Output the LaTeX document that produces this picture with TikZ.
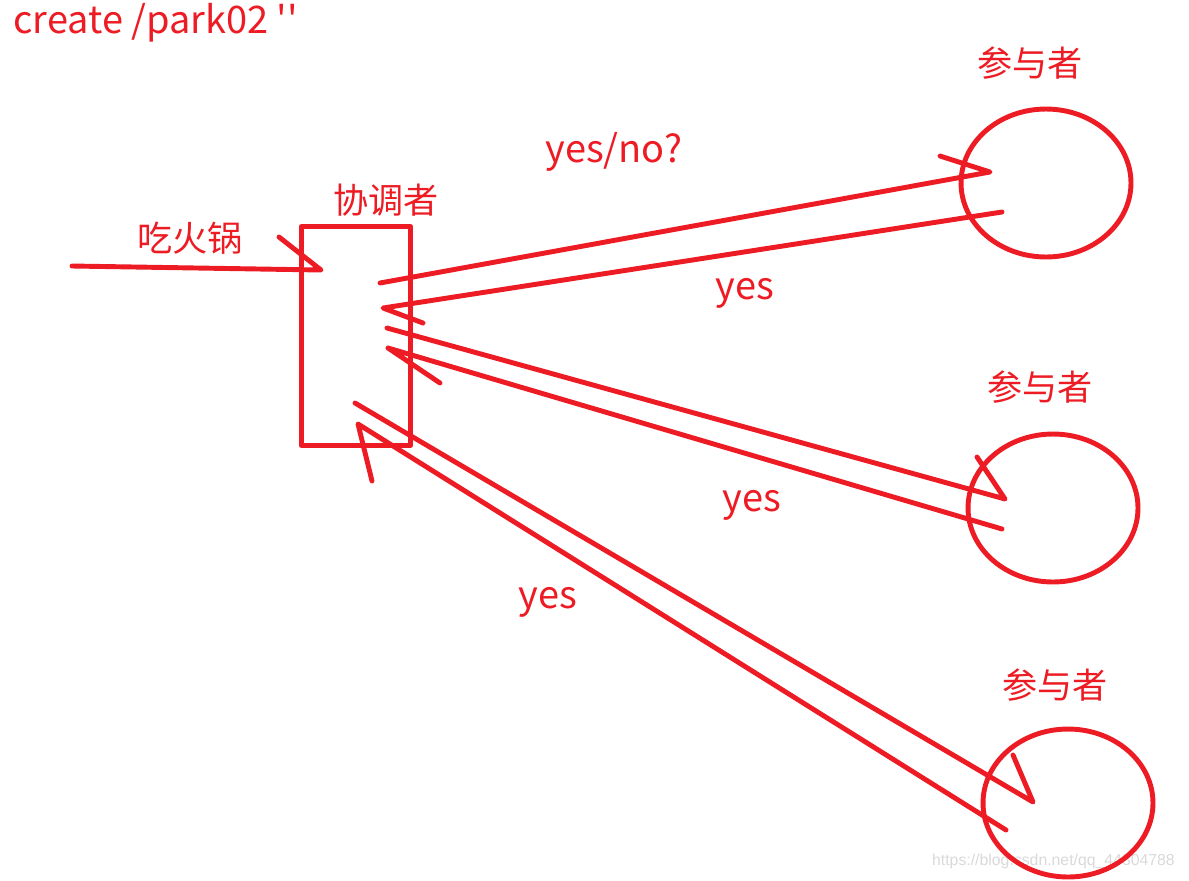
\documentclass[tikz,border=0pt]{standalone}
\usepackage{fontspec}
\newfontfamily\cjk[Ligatures=TeXOff]{Noto Sans CJK SC}
\newfontfamily\wmfont{Liberation Sans}
\usetikzlibrary{shapes.geometric}
\definecolor{paintred}{RGB}{237,28,36}

\begin{document}
\begin{tikzpicture}[
    x=0.02cm, y=-0.02cm,
    pen/.style={draw=paintred, line width=2.8pt, line cap=round, line join=round},
    lbl/.style={text=paintred, font=\cjk\fontsize{20}{24}\selectfont, inner sep=0pt},
    latin/.style={lbl, font=\cjk\fontsize{21.6}{26}\selectfont},
    party/.style={pen, ellipse, inner sep=0pt, minimum width=3.4cm, minimum height=2.96cm}
  ]
    \useasboundingbox (0,0) rectangle (1189,880);
    \node[text=black!15, font=\wmfont\fontsize{9}{10}\selectfont, anchor=east] (wm)
      at (1181,861) {https://blog.csdn.net/qq\_44304788};

    \node[latin, anchor=base west] (title) at (13,33) {create /park02 ''};

    % coordinator and participants
    \node[pen, inner sep=0pt, minimum width=2.18cm, minimum height=4.38cm] (coord) at (356,336) {};
    \node[lbl] (coordlbl) at (386,200) {协调者};
    \node[lbl] (hotpot) at (190,238) {吃火锅};
    \node[party] (p1) at (1046,183) {};
    \node[party] (p2) at (1053,508) {};
    \node[party] (p3) at (1068,803) {};
    \node[lbl] (p1lbl) at (1030,63) {参与者};
    \node[lbl] (p2lbl) at (1040,387) {参与者};
    \node[lbl] (p3lbl) at (1055,685) {参与者};

    % message labels
    \node[latin] (ask) at (614,152) {yes/no?};
    \node[latin] (yes1) at (745,293) {yes};
    \node[latin] (yes2) at (752,505) {yes};
    \node[latin] (yes3) at (548,602) {yes};

    % hand-drawn arrows: line to the tip, then one barb
    \coordinate (in) at (72,266);
    \coordinate (intip) at (321,270);
    \draw[pen] (in) -- (intip) -- ++(-42,-33);

    \coordinate (ask1) at (380,283);
    \coordinate (ask1tip) at (990,172);
    \draw[pen] (ask1) -- (ask1tip) -- ++(-50,-16);

    \coordinate (ans1) at (1002,212);
    \coordinate (ans1tip) at (383,308);
    \draw[pen] (ans1) -- (ans1tip) -- ++(40,15);

    \coordinate (ask2) at (387,328);
    \coordinate (ask2tip) at (1005,499);
    \draw[pen] (ask2) -- (ask2tip) -- ++(-28,-42);

    \coordinate (ans2) at (1002,529);
    \coordinate (ans2tip) at (388,348);
    \draw[pen] (ans2) -- (ans2tip) -- ++(52,35);

    \coordinate (ask3) at (355,403);
    \coordinate (ask3tip) at (1033,802);
    \draw[pen] (ask3) -- (ask3tip) -- ++(-20,-47);

    \coordinate (ans3) at (1006,830);
    \coordinate (ans3tip) at (358,424);
    \draw[pen] (ans3) -- (ans3tip) -- ++(14,57);
\end{tikzpicture}
\end{document}
